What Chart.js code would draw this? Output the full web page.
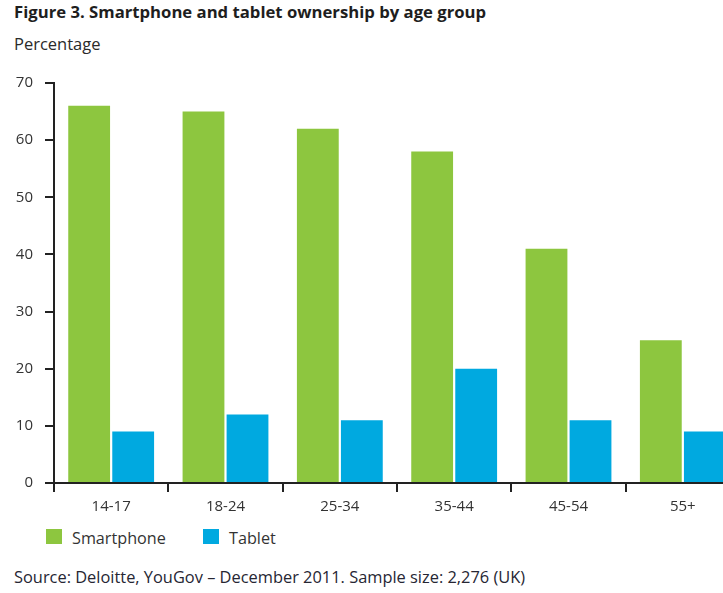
<!DOCTYPE html>
<html>
<head>
<meta charset="utf-8">
<script src="https://cdn.jsdelivr.net/npm/chart.js@4"></script>
<style>
  html, body { margin: 0; padding: 0; background: #fff; overflow: hidden; }
  body { width: 723px; height: 593px; position: relative; font-family: "Open Sans", sans-serif; color: #333; }
  .txt { position: absolute; white-space: nowrap; }
  #title { left: 14px; top: 0px; font-size: 16.7px; font-weight: bold; color: #1e1e1e; }
  #ylab { left: 14px; top: 32px; font-size: 16.5px; color: #2a2a2a; }
  #source { left: 14px; top: 565px; font-size: 16.4px; color: #262633; }
  #legend { position: absolute; left: 46px; top: 527px; font-size: 16.2px; color: #333; }
  #legend span.item { position: absolute; top: 0; white-space: nowrap; }
  #legend i { position: absolute; top: 2px; width: 16px; height: 15px; }
  #wrap { position: absolute; left: 0; top: 62px; width: 740px; height: 461px; }
</style>
</head>
<body>
<div class="txt" id="title">Figure 3. Smartphone and tablet ownership by age group</div>
<div class="txt" id="ylab">Percentage</div>
<div id="wrap"><canvas id="chart"></canvas></div>
<div id="legend"></div>
<div class="txt" id="source">Source: Deloitte, YouGov – December 2011. Sample size: 2,276 (UK)</div>
<script>
// 年龄组与数据
const categories = ['14-17', '18-24', '25-34', '35-44', '45-54', '55+'];
const smartphone = [66, 65, 62, 58, 41, 25];
const tablet = [9, 12, 11, 20, 11, 9];
const seriesNames = ['Smartphone', 'Tablet'];
const colors = ['#8dc63f', '#00a9e0'];
const yTicks = [0, 10, 20, 30, 40, 50, 60, 70];

const ctx = document.getElementById('chart').getContext('2d');
const chart = new Chart(ctx, {
  type: 'bar',
  data: {
    labels: categories,
    datasets: [
      { label: seriesNames[0], data: smartphone, backgroundColor: colors[0], borderWidth: 0 },
      { label: seriesNames[1], data: tablet, backgroundColor: colors[1], borderWidth: 0 }
    ]
  },
  options: {
    responsive: true,
    maintainAspectRatio: false,
    animation: false,
    layout: { padding: { top: 13, left: 0, right: 0, bottom: 0 } },
    datasets: { bar: { categoryPercentage: 0.77, barPercentage: 0.95 } },
    plugins: {
      legend: { display: false },
      tooltip: { enabled: false }
    },
    scales: {
      x: {
        offset: true,
        afterFit: function(scale) { scale.height = 40; },
        border: { display: true, color: '#222', width: 2 },
        grid: { offset: true, drawOnChartArea: false, drawTicks: true, tickLength: 9, color: '#222', lineWidth: 2 },
        ticks: { color: '#333', padding: 6, font: { family: 'Open Sans', size: 15 } }
      },
      y: {
        min: 0,
        max: 70,
        afterFit: function(scale) { scale.width = 54; },
        afterBuildTicks: function(scale) { scale.ticks = yTicks.map(v => ({ value: v })); },
        border: { display: true, color: '#222', width: 2 },
        grid: { drawOnChartArea: false, drawTicks: true, tickLength: 9, color: '#222', lineWidth: 2 },
        ticks: { color: '#333', padding: 12, font: { family: 'Open Sans', size: 15 } }
      }
    }
  }
});

// 图例
const legend = document.getElementById('legend');
const legendX = [0, 157];
seriesNames.forEach(function(name, i) {
  const item = document.createElement('span');
  item.className = 'item';
  item.style.left = legendX[i] + 'px';
  item.innerHTML = '<i style="left:0;background:' + colors[i] + '"></i><span style="margin-left:26px">' + name + '</span>';
  legend.appendChild(item);
});
</script>
</body>
</html>
